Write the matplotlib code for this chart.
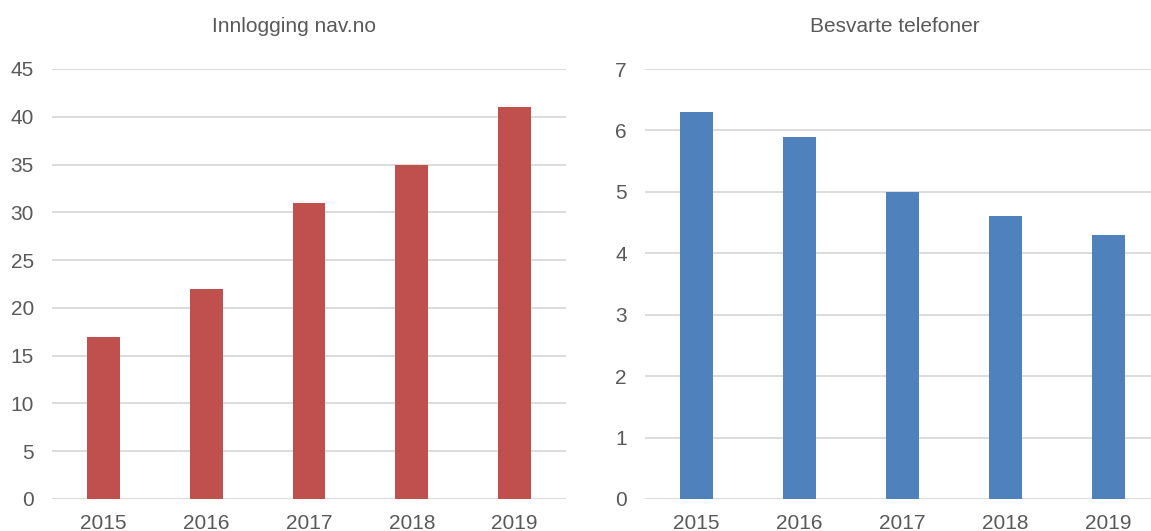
import matplotlib.pyplot as plt
import numpy as np

plt.rcParams['font.family'] = ['Liberation Sans', 'DejaVu Sans']

years = ['2015', '2016', '2017', '2018', '2019']
innlogging = [17, 22, 31, 35, 41]
telefoner = [6.3, 5.9, 5.0, 4.6, 4.3]

text_color = '#595959'
grid_color = '#D9D9D9'

W, H = 1151, 531
fig = plt.figure(figsize=(W / 100, H / 100), dpi=100)

def style(ax, yticks):
    for s in ax.spines.values():
        s.set_visible(False)
    ax.set_yticks(yticks)
    ax.yaxis.grid(True, color=grid_color, linewidth=1.3)
    ax.set_axisbelow(True)
    ax.tick_params(axis='both', length=0, labelsize=15, labelcolor=text_color)
    ax.tick_params(axis='y', pad=13)
    ax.tick_params(axis='x', pad=11)

bottom = (H - 499) / H
height = (499 - 69) / H

# left chart
ax1 = fig.add_axes([52 / W, bottom, (566 - 52) / W, height])
x = np.arange(len(years))
ax1.bar(x, innlogging, width=0.32, color='#C0504D')
ax1.set_xticks(x, years)
ax1.set_xlim(-0.5, 4.5)
ax1.set_ylim(0, 45)
style(ax1, range(0, 46, 5))
fig.text(294 / W, 1 - 32 / H, 'Innlogging nav.no', ha='center', va='baseline',
         fontsize=15, color=text_color)

# right chart
ax2 = fig.add_axes([645 / W, bottom, (1151 - 645) / W, height])
ax2.bar(x, telefoner, width=0.32, color='#4F81BD')
ax2.set_xticks(x, years)
ax2.set_xlim(-0.5, -0.5 + (1151 - 645) / 103)
ax2.set_ylim(0, 7)
style(ax2, range(0, 8))
fig.text(895 / W, 1 - 32 / H, 'Besvarte telefoner', ha='center', va='baseline',
         fontsize=15, color=text_color)

fig.savefig('out.png', dpi=100)
